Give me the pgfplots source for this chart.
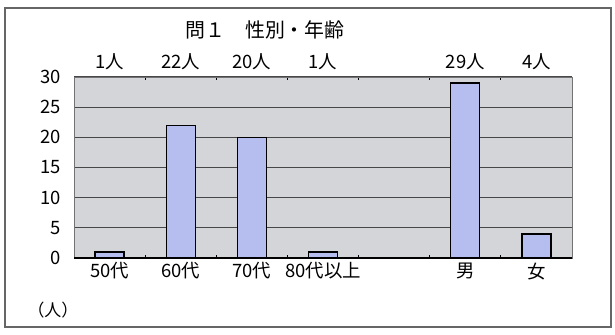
\documentclass[border=0pt]{standalone}
\usepackage{fontspec}
\setmainfont{Noto Sans CJK JP}
\usepackage{pgfplots}
\pgfplotsset{compat=1.18}
\definecolor{bgray}{RGB}{211,213,216}
\definecolor{barc}{RGB}{182,190,240}
\begin{document}
\begin{tikzpicture}[x=1bp,y=1bp]
\path[use as bounding box] (0,0) rectangle (615,334);
\draw[black!60, line width=1.2bp] (5,7) rectangle (611,326);
\node[font=\fontsize{20}{24}\selectfont] at (265,304) {問１　性別・年齢};
\node[font=\fontsize{17}{20}\selectfont, anchor=west] at (24,24) {（人）};
\begin{axis}[at={(74bp,76bp)}, anchor=south west, scale only axis,
  width=498bp, height=181bp,
  xmin=-0.5, xmax=6.5, ymin=0, ymax=30,
  ytick={0,5,...,30},
  xtick={0,1,2,3,5,6},
  xticklabels={50代,60代,70代,80代以上,男,女},
  minor xtick={-0.5,0.5,...,6.5},
  major tick length=0pt, minor tick length=3bp,
  minor tick style={black, line width=1bp},
  axis background/.style={fill=bgray},
  ymajorgrids, grid style={black!72, line width=1.2bp},
  axis line style={black!55, line width=0.8bp},
  tick label style={font=\fontsize{18.5}{22}\selectfont},
  /pgf/number format/assume math mode=true,
  yticklabel style={xshift=-10bp},
  xticklabel style={yshift=-1bp},
  clip=false,
]
\addplot[ybar, bar width=29bp, fill=barc, draw=black, line width=1.3bp]
  coordinates {(0,1) (1,22) (2,20) (3,1) (5,29) (6,4)};
\draw[black, line width=1.6bp] (axis cs:-0.5,0) -- (axis cs:6.5,0);
\node[font=\fontsize{18.5}{22}\selectfont, yshift=15bp] at (axis cs:0,30) {1人};
\node[font=\fontsize{18.5}{22}\selectfont, yshift=15bp] at (axis cs:1,30) {22人};
\node[font=\fontsize{18.5}{22}\selectfont, yshift=15bp] at (axis cs:2,30) {20人};
\node[font=\fontsize{18.5}{22}\selectfont, yshift=15bp] at (axis cs:3,30) {1人};
\node[font=\fontsize{18.5}{22}\selectfont, yshift=15bp] at (axis cs:5,30) {29人};
\node[font=\fontsize{18.5}{22}\selectfont, yshift=15bp] at (axis cs:6,30) {4人};
\end{axis}
\end{tikzpicture}
\end{document}
